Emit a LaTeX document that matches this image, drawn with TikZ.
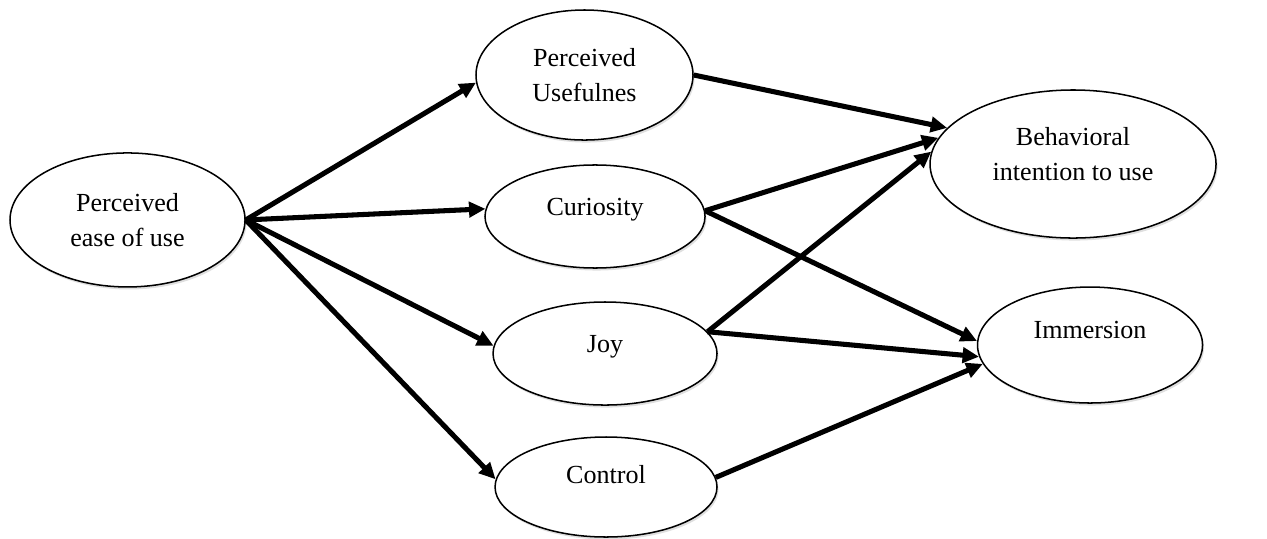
\documentclass[tikz,border=0pt]{standalone}
\usepackage{fontspec}
\setmainfont{Liberation Serif}
\usetikzlibrary{shapes.geometric, arrows.meta, shadows}

\begin{document}
\begin{tikzpicture}[>={Triangle[length=6.5pt, width=6pt]},
    every node/.style={draw, ellipse, line width=0.6pt, fill=white, align=center,
        font=\fontsize{10.3}{13.8}\selectfont,
        drop shadow={shadow xshift=0.6pt, shadow yshift=-1pt, opacity=0.25}},
    txtup/.style={text height=7pt, text depth=#1}]
                \useasboundingbox (0, 0) rectangle (17.597, 7.486);

                % Nodes
                \node[minimum width=3.264cm, minimum height=1.861cm] at (1.771, 4.431) (peu) {Perceived\\ease of use};
                \node[minimum width=3.014cm, minimum height=1.806cm] at (8.118, 6.444) (pu) {Perceived\\Usefulnes};
                \node[minimum width=3.056cm, minimum height=1.431cm, txtup=8pt] at (8.264, 4.479) (cur) {Curiosity};
                \node[minimum width=3.111cm, minimum height=1.431cm, txtup=8pt] at (8.403, 2.576) (joy) {Joy};
                \node[minimum width=3.083cm, minimum height=1.389cm, txtup=10pt] at (8.417, 0.722) (ctrl) {Control};
                \node[minimum width=3.972cm, minimum height=2.056cm, text depth=8pt] at (14.903, 5.208) (bi) {Behavioral\\intention to use};
                \node[minimum width=3.125cm, minimum height=1.611cm, txtup=12pt] at (15.139, 2.694) (imm) {Immersion};

                % Edges
                \draw[->, line width=2pt] (peu.east) -- (pu.184);
                \draw[->, line width=2pt] (peu.east) -- (cur.176);
                \draw[->, line width=2pt] (peu.east) -- (joy.176);
                \draw[->, line width=2pt] (peu.east) -- (ctrl.176);

                \draw[->, line width=2pt] (pu.east) -- (bi.164);
                \draw[->, line width=2pt] (cur.3) -- (bi.169);
                \draw[->, line width=2pt] (cur.3) -- (imm.178);
                \draw[->, line width=2pt] (joy.12) -- (bi.175);
                \draw[->, line width=2pt] (joy.12) -- (imm.186);
                \draw[->, line width=2pt] (ctrl.5) -- (imm.190);
            \end{tikzpicture}
\end{document}
